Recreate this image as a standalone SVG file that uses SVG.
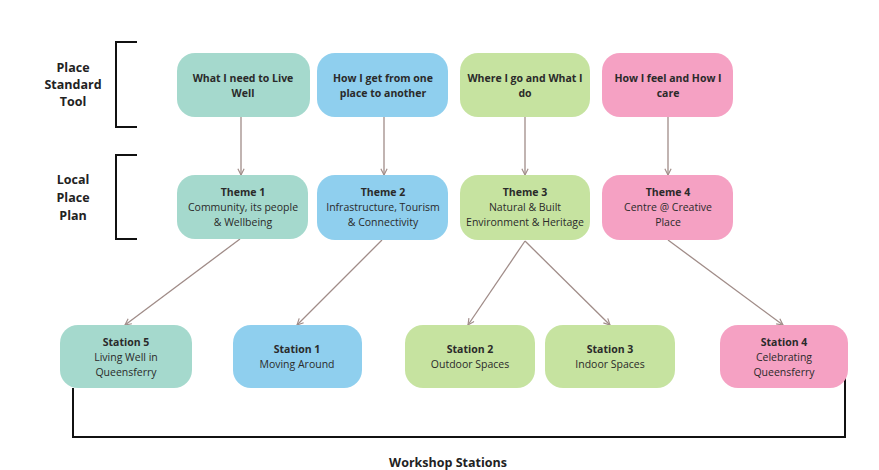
<svg xmlns="http://www.w3.org/2000/svg" width="879" height="470" viewBox="0 0 879 470">
<style>
.teal{fill:#a5d9cd}
.blue{fill:#8fcfee}
.green{fill:#c6e3a0}
.pink{fill:#f5a1c3}
.t{font-family:"Open Sans","Liberation Sans",sans-serif;font-size:10.5px;fill:#2a2a2a;text-anchor:middle}
.b{font-weight:bold}
.lab{font-family:"Open Sans","Liberation Sans",sans-serif;font-size:12.5px;font-weight:bold;fill:#222;text-anchor:middle}
.br{fill:none;stroke:#111;stroke-width:2}
.c{stroke:#a08c88;stroke-width:1.3;fill:none;marker-end:url(#ah)}
</style>
<defs>
<marker id="ah" viewBox="0 0 10 10" refX="9" refY="5" markerWidth="6" markerHeight="6" orient="auto-start-reverse">
<path d="M1,1 L9,5 L1,9" fill="none" stroke="#a08c88" stroke-width="1.5"/>
</marker>
</defs>
<rect width="879" height="470" fill="#ffffff"/>

<g id="label-pst">
<path class="br" d="M137,42 H116 V127 H137"/>
<text class="lab" x="73" y="72">Place</text>
<text class="lab" x="73" y="89">Standard</text>
<text class="lab" x="73" y="106">Tool</text>
</g>
<g id="label-lpp">
<path class="br" d="M137,155 H116 V239 H137"/>
<text class="lab" x="73" y="184">Local</text>
<text class="lab" x="73" y="202">Place</text>
<text class="lab" x="73" y="220">Plan</text>
</g>

<g id="connectors">
<line class="c" x1="241" y1="117" x2="241" y2="175"/>
<line class="c" x1="384" y1="117" x2="384" y2="175"/>
<line class="c" x1="525" y1="117" x2="525" y2="175"/>
<line class="c" x1="668" y1="117" x2="668" y2="175"/>
<line class="c" x1="240" y1="239" x2="125" y2="325"/>
<line class="c" x1="382" y1="240" x2="297" y2="325"/>
<line class="c" x1="525" y1="241" x2="468" y2="325"/>
<line class="c" x1="525" y1="241" x2="610" y2="325"/>
<line class="c" x1="668" y1="240" x2="783" y2="325"/>
<path class="br" d="M73,388 V437 H845 V377"/>
</g>

<g id="pst1"><rect class="teal" x="177" y="53" width="133" height="64" rx="18"/>
<text class="t b" x="243" y="82">What I need to Live</text><text class="t b" x="243" y="97">Well</text></g>
<g id="pst2"><rect class="blue" x="317" y="53" width="131" height="64" rx="18"/>
<text class="t b" x="383" y="82">How I get from one</text><text class="t b" x="383" y="97">place to another</text></g>
<g id="pst3"><rect class="green" x="460" y="53" width="130" height="64" rx="18"/>
<text class="t b" x="525" y="82">Where I go and What I</text><text class="t b" x="525" y="97">do</text></g>
<g id="pst4"><rect class="pink" x="602" y="53" width="131" height="64" rx="18"/>
<text class="t b" x="668" y="82">How I feel and How I</text><text class="t b" x="668" y="97">care</text></g>

<g id="theme1"><rect class="teal" x="177" y="175" width="131" height="64" rx="18"/>
<text class="t b" x="243" y="196">Theme 1</text><text class="t" x="243" y="211">Community, its people</text><text class="t" x="243" y="226">&amp; Wellbeing</text></g>
<g id="theme2"><rect class="blue" x="317" y="175" width="131" height="65" rx="18"/>
<text class="t b" x="383" y="196">Theme 2</text><text class="t" x="383" y="211">Infrastructure, Tourism</text><text class="t" x="383" y="226">&amp; Connectivity</text></g>
<g id="theme3"><rect class="green" x="460" y="175" width="130" height="65" rx="18"/>
<text class="t b" x="525" y="196">Theme 3</text><text class="t" x="525" y="211">Natural &amp; Built</text><text class="t" x="525" y="226">Environment &amp; Heritage</text></g>
<g id="theme4"><rect class="pink" x="602" y="175" width="131" height="65" rx="18"/>
<text class="t b" x="668" y="196">Theme 4</text><text class="t" x="668" y="211">Centre @ Creative</text><text class="t" x="668" y="226">Place</text></g>

<g id="station5"><rect class="teal" x="60" y="325" width="132" height="63" rx="18"/>
<text class="t b" x="126" y="346">Station 5</text><text class="t" x="126" y="361">Living Well in</text><text class="t" x="126" y="376">Queensferry</text></g>
<g id="station1"><rect class="blue" x="233" y="325" width="129" height="63" rx="18"/>
<text class="t b" x="297" y="353">Station 1</text><text class="t" x="297" y="368">Moving Around</text></g>
<g id="station2"><rect class="green" x="405" y="325" width="130" height="63" rx="18"/>
<text class="t b" x="470" y="353">Station 2</text><text class="t" x="470" y="368">Outdoor Spaces</text></g>
<g id="station3"><rect class="green" x="545" y="325" width="130" height="63" rx="18"/>
<text class="t b" x="610" y="353">Station 3</text><text class="t" x="610" y="368">Indoor Spaces</text></g>
<g id="station4"><rect class="pink" x="720" y="325" width="128" height="63" rx="18"/>
<text class="t b" x="784" y="346">Station 4</text><text class="t" x="784" y="361">Celebrating</text><text class="t" x="784" y="376">Queensferry</text></g>

<g id="label-ws"><text class="lab" x="448" y="467">Workshop Stations</text></g>
</svg>
